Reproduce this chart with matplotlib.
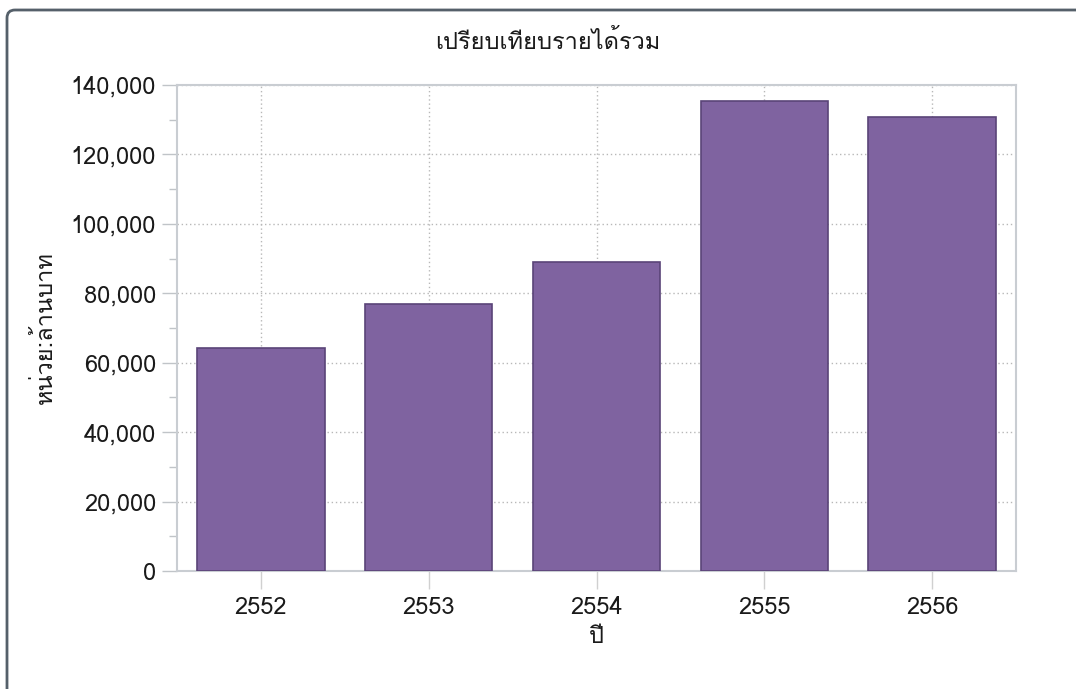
import matplotlib
matplotlib.use("Agg")
import matplotlib.pyplot as plt
from matplotlib.patches import PathPatch
from matplotlib.path import Path
from matplotlib.ticker import FuncFormatter, MultipleLocator

years = ["2552", "2553", "2554", "2555", "2556"]
revenue = [64200, 76900, 89000, 135400, 130800]
title = "เปรียบเทียบรายได้รวม"
ylabel = "หน่วย:ล้านบาท"
xlabel = "ปี"

plt.rcParams['font.family'] = ['Loma', 'DejaVu Sans']

fig = plt.figure(figsize=(10.76, 6.89), dpi=100)
ax = fig.add_axes([177/1076, 1 - 571/689, (1016 - 177)/1076, (571 - 85)/689])

x = list(range(len(years)))
ax.bar(x, revenue, width=0.76, color="#7f63a0", edgecolor="#5a4478", linewidth=1.2, zorder=3)

ax.set_xlim(-0.5, len(years) - 0.5)
ax.set_ylim(0, 140000)
ax.set_xticks(x)
ax.set_xticklabels(years)
ax.yaxis.set_major_locator(MultipleLocator(20000))
ax.yaxis.set_minor_locator(MultipleLocator(10000))
ax.yaxis.set_major_formatter(FuncFormatter(lambda v, p: f"{int(v):,}"))

ax.grid(True, which="major", axis="both", linestyle=(0, (1, 2)), color="#b8b8b8", linewidth=1, zorder=0)
ax.set_axisbelow(True)

for s in ax.spines.values():
    s.set_color("#c9cdd2")
    s.set_linewidth(1.5)

ax.tick_params(axis="y", which="major", length=11, width=1, color="#c0c4c8", labelsize=17, labelcolor="#1a1a1a", pad=4)
ax.tick_params(axis="y", which="minor", length=6, width=1, color="#c0c4c8")
ax.tick_params(axis="x", which="major", length=13, width=1, color="#d0d0d0", labelsize=17, labelcolor="#1a1a1a", pad=5)

fig.text(548/1076, 1 - 42/689, title, fontsize=17, color="#1a1a1a", ha="center", va="center")
ax.set_ylabel(ylabel, fontsize=17, color="#1a1a1a", labelpad=10)
ax.set_xlabel(xlabel, fontsize=17, color="#1a1a1a", labelpad=4)

# outer rounded frame (top-left corner only visible)
H = 6.89
def px(xp, yp):
    return (xp / 100.0, (689 - yp) / 100.0)
verts = [px(7, 700), px(7, 18), px(7, 10), px(15, 10), px(1090, 10)]
codes = [Path.MOVETO, Path.LINETO, Path.CURVE3, Path.CURVE3, Path.LINETO]
frame = PathPatch(Path(verts, codes), transform=fig.dpi_scale_trans, facecolor="none",
                  edgecolor="#55606a", linewidth=2, clip_on=False)
fig.patches.append(frame)

fig.savefig("out.png", dpi=100)
